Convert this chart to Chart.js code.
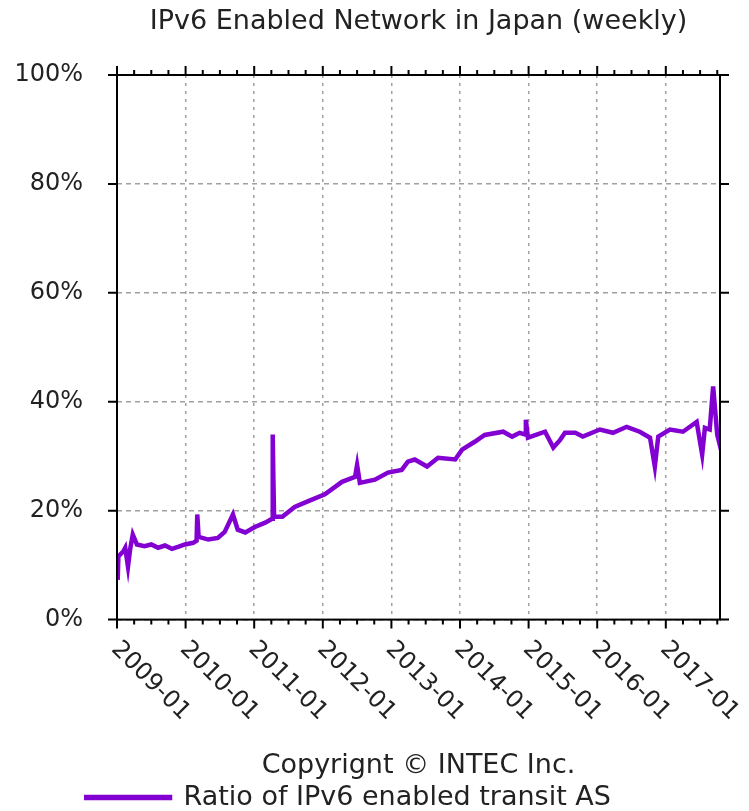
<!DOCTYPE html>
<html>
<head>
<meta charset="utf-8">
<script src="https://cdn.jsdelivr.net/npm/chart.js@4/dist/chart.umd.min.js"></script>
<style>
  body { margin: 0; background: #fff; }
</style>
</head>
<body>
<canvas id="ipv6Chart" width="749" height="811"></canvas>
<script>
// -------- Data --------
const yearTicks = [2009, 2010, 2011, 2012, 2013, 2014, 2015, 2016, 2017];
const tickLabels = ['2009-01', '2010-01', '2011-01', '2012-01', '2013-01', '2014-01', '2015-01', '2016-01', '2017-01'];
const percentTicks = [0, 20, 40, 60, 80, 100];
const percentLabels = ['0%', '20%', '40%', '60%', '80%', '100%'];

// week position as decimal year
const weeks = [
    2009.01, 2009.02, 2009.09, 2009.12, 2009.16, 2009.19, 2009.23, 2009.29, 2009.40, 2009.50,
    2009.60, 2009.70, 2009.80, 2009.90, 2009.99, 2010.11, 2010.16, 2010.17, 2010.19, 2010.33,
    2010.47, 2010.57, 2010.69, 2010.76, 2010.87, 2011.01, 2011.16, 2011.26, 2011.27, 2011.28,
    2011.29, 2011.41, 2011.59, 2011.78, 2012.03, 2012.28, 2012.47, 2012.50, 2012.54, 2012.76,
    2012.95, 2013.15, 2013.24, 2013.34, 2013.52, 2013.68, 2013.93, 2014.03, 2014.22, 2014.36,
    2014.63, 2014.76, 2014.87, 2014.95, 2014.96, 2014.99, 2015.24, 2015.36, 2015.46, 2015.53,
    2015.68, 2015.79, 2016.04, 2016.23, 2016.43, 2016.62, 2016.77, 2016.84, 2016.89, 2017.06,
    2017.25, 2017.45, 2017.53, 2017.57, 2017.64, 2017.69, 2017.75, 2017.76
];
// ratio of IPv6 enabled transit AS (%)
const ratio = [
    7.3, 11.6, 12.5, 13.2, 9.7, 12.8, 15.6, 13.8, 13.5, 13.8,
    13.2, 13.6, 13.0, 13.4, 13.8, 14.1, 14.5, 19.3, 15.2, 14.7,
    15.0, 16.1, 19.3, 16.5, 16.0, 17.0, 17.8, 18.5, 34.0, 25.7,
    18.9, 18.9, 20.7, 21.7, 23.0, 25.3, 26.2, 28.4, 25.1, 25.7,
    27.0, 27.5, 29.0, 29.4, 28.1, 29.7, 29.4, 31.2, 32.7, 33.9,
    34.5, 33.6, 34.3, 34.0, 36.7, 33.4, 34.5, 31.6, 33.0, 34.3,
    34.3, 33.6, 34.9, 34.3, 35.4, 34.5, 33.4, 28.1, 33.6, 34.9,
    34.5, 36.3, 30.3, 35.2, 34.9, 42.8, 33.9, 33.4
];

const PURPLE = '#8200d2';
const TEXT = '#222';

Chart.defaults.font.family = '"DejaVu Sans", sans-serif';
Chart.defaults.color = TEXT;

// -------- Frame, outward ticks and axis labels --------
const axisFrame = {
    id: 'axisFrame',
    afterDatasetsDraw(chart) {
        const { ctx, chartArea: a, scales: { x, y } } = chart;
        ctx.save();
        ctx.strokeStyle = '#000';
        ctx.lineWidth = 2;
        ctx.strokeRect(a.left, a.top, a.right - a.left, a.bottom - a.top);

        ctx.beginPath();
        // quarterly minor ticks, yearly major ticks, top and bottom
        for (let q = Math.ceil(x.min * 4) / 4; q <= x.max; q += 0.25) {
            const px = x.getPixelForValue(q);
            const len = Number.isInteger(q) ? 9 : 5;
            ctx.moveTo(px, a.bottom); ctx.lineTo(px, a.bottom + len);
            ctx.moveTo(px, a.top); ctx.lineTo(px, a.top - len);
        }
        percentTicks.forEach(v => {
            const py = y.getPixelForValue(v);
            ctx.moveTo(a.left - 9, py); ctx.lineTo(a.left, py);
            ctx.moveTo(a.right, py); ctx.lineTo(a.right + 9, py);
        });
        ctx.stroke();

        ctx.font = '24px "DejaVu Sans"';
        ctx.fillStyle = TEXT;

        // y labels
        ctx.textAlign = 'right';
        ctx.textBaseline = 'middle';
        percentTicks.forEach((v, i) => {
            ctx.fillText(percentLabels[i], a.left - 34, y.getPixelForValue(v));
        });

        // slanted year labels
        ctx.textAlign = 'left';
        yearTicks.forEach((v, i) => {
            const px = x.getPixelForValue(v);
            ctx.save();
            ctx.translate(px - 2, a.bottom + 26);
            ctx.rotate(Math.PI / 4);
            ctx.fillText(tickLabels[i], 0, 0);
            ctx.restore();
        });
        ctx.restore();
    }
};

new Chart(document.getElementById('ipv6Chart'), {
    type: 'line',
    data: {
        datasets: [{
            label: 'Ratio of IPv6 enabled transit AS',
            data: weeks.map((w, i) => ({ x: w, y: ratio[i] })),
            borderColor: PURPLE,
            backgroundColor: PURPLE,
            borderWidth: 4.5,
            pointRadius: 0,
            tension: 0
        }]
    },
    options: {
        responsive: false,
        animation: false,
        layout: { padding: { left: 84, right: 29, top: 0, bottom: -10 } },
        scales: {
            x: {
                type: 'linear',
                min: 2009,
                max: 2017.79,
                afterBuildTicks: s => { s.ticks = yearTicks.map(v => ({ value: v })); },
                afterFit: s => { s.height = 130; },
                ticks: { display: false },
                grid: { color: '#a0a0a0', lineWidth: 1.5, drawTicks: false },
                border: { display: false, dash: [3, 5] }
            },
            y: {
                min: 0,
                max: 100,
                afterBuildTicks: s => { s.ticks = percentTicks.map(v => ({ value: v })); },
                afterFit: s => { s.width = 33; },
                ticks: { display: false },
                grid: { color: '#a0a0a0', lineWidth: 1.5, drawTicks: false },
                border: { display: false, dash: [5, 4] }
            }
        },
        plugins: {
            title: {
                display: true,
                text: 'IPv6 Enabled Network in Japan (weekly)',
                fullSize: false,
                font: { size: 27, weight: 'normal' },
                color: TEXT,
                padding: { top: 6, bottom: 36.6 }
            },
            subtitle: {
                display: true,
                position: 'bottom',
                text: 'Copyrignt © INTEC Inc.',
                fullSize: false,
                weight: 500,
                font: { size: 27, weight: 'normal' },
                color: TEXT,
                padding: { top: 0, bottom: 0 }
            },
            legend: {
                position: 'bottom',
                align: 'start',
                labels: { boxWidth: 84, boxHeight: 1, padding: 2, font: { size: 27 }, color: TEXT }
            },
            tooltip: { enabled: false }
        }
    },
    plugins: [axisFrame]
});
</script>
</body>
</html>
